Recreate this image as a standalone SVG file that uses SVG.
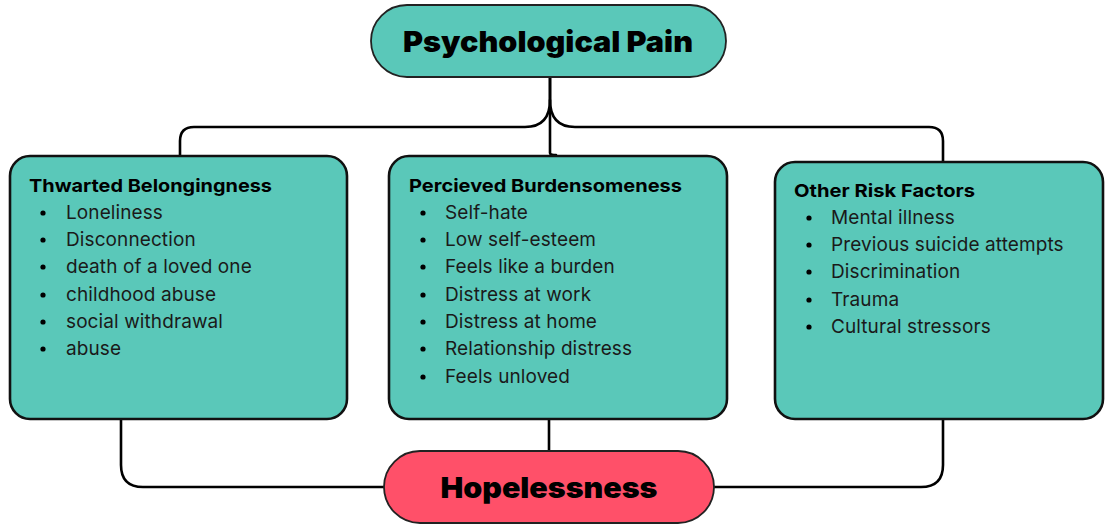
<svg xmlns="http://www.w3.org/2000/svg" width="1105" height="525" viewBox="0 0 1105 525">
<style>
.conn{fill:none;stroke:#000;stroke-width:2.6;stroke-linecap:round}
.pill{stroke:#222;stroke-width:1.8}
.box{fill:#5AC8B9;stroke:#111;stroke-width:2.6}
.teal{fill:#5AC8B9}
.red{fill:#FF5069}
.big{font-family:Inter,"Liberation Sans",sans-serif;font-weight:900;font-size:29px;fill:#000;text-anchor:middle}
.title{font-family:Inter,"Liberation Sans",sans-serif;font-weight:700;font-size:18px;fill:#000}
.item{font-family:Inter,"Liberation Sans",sans-serif;font-weight:400;font-size:19px;letter-spacing:0.1px;fill:#1a1a1a}
.dot{fill:#000}
</style>
<rect width="1105" height="525" fill="#fff"/>
<g id="connectors">
<path class="conn" d="M550,77 V100 Q550,127 525,127 H194 Q180,127 180,141 V157"/>
<path class="conn" d="M550,100 Q550,127 575,127 H929 Q943,127 943,141 V162"/>
<path class="conn" d="M550,77 V153 Q550,155 556,155"/>
<path class="conn" d="M121,419 V465 Q121,487 143,487 H385"/>
<path class="conn" d="M943,419 V465 Q943,487 921,487 H714"/>
<path class="conn" d="M549,419 V451"/>
</g>
<g id="psychological-pain">
<rect class="pill teal" x="371" y="5" width="355" height="72" rx="36"/>
<text class="big" x="548" y="52" textLength="290" lengthAdjust="spacingAndGlyphs">Psychological Pain</text>
</g>
<g id="thwarted-belongingness">
<rect class="box" x="10" y="156" width="337" height="263" rx="20"/>
<text class="title" x="29" y="192" textLength="243" lengthAdjust="spacingAndGlyphs">Thwarted Belongingness</text>
<g class="dot"><circle cx="43" cy="213" r="2.6"/><circle cx="43" cy="240" r="2.6"/><circle cx="43" cy="267" r="2.6"/><circle cx="43" cy="295" r="2.6"/><circle cx="43" cy="322" r="2.6"/><circle cx="43" cy="349" r="2.6"/></g>
<text class="item" x="66" y="219">Loneliness</text>
<text class="item" x="66" y="246">Disconnection</text>
<text class="item" x="66" y="273">death of a loved one</text>
<text class="item" x="66" y="301">childhood abuse</text>
<text class="item" x="66" y="328">social withdrawal</text>
<text class="item" x="66" y="355">abuse</text>
</g>
<g id="perceived-burdensomeness">
<rect class="box" x="389" y="156" width="338" height="263" rx="20"/>
<text class="title" x="409" y="192" textLength="273" lengthAdjust="spacingAndGlyphs">Percieved Burdensomeness</text>
<g class="dot"><circle cx="423" cy="213" r="2.6"/><circle cx="423" cy="240" r="2.6"/><circle cx="423" cy="267" r="2.6"/><circle cx="423" cy="295" r="2.6"/><circle cx="423" cy="322" r="2.6"/><circle cx="423" cy="349" r="2.6"/><circle cx="423" cy="377" r="2.6"/></g>
<text class="item" x="445" y="219">Self-hate</text>
<text class="item" x="445" y="246">Low self-esteem</text>
<text class="item" x="445" y="273">Feels like a burden</text>
<text class="item" x="445" y="301">Distress at work</text>
<text class="item" x="445" y="328">Distress at home</text>
<text class="item" x="445" y="355">Relationship distress</text>
<text class="item" x="445" y="383">Feels unloved</text>
</g>
<g id="other-risk-factors">
<rect class="box" x="775" y="162" width="328" height="257" rx="20"/>
<text class="title" x="794" y="197" textLength="181" lengthAdjust="spacingAndGlyphs">Other Risk Factors</text>
<g class="dot"><circle cx="809" cy="218" r="2.6"/><circle cx="809" cy="245" r="2.6"/><circle cx="809" cy="272" r="2.6"/><circle cx="809" cy="300" r="2.6"/><circle cx="809" cy="327" r="2.6"/></g>
<text class="item" x="831" y="224">Mental illness</text>
<text class="item" x="831" y="251">Previous suicide attempts</text>
<text class="item" x="831" y="278">Discrimination</text>
<text class="item" x="831" y="306">Trauma</text>
<text class="item" x="831" y="333">Cultural stressors</text>
</g>
<g id="hopelessness">
<rect class="pill red" x="384" y="451" width="330" height="72" rx="36"/>
<text class="big" x="549" y="498" textLength="217" lengthAdjust="spacingAndGlyphs">Hopelessness</text>
</g>
</svg>
